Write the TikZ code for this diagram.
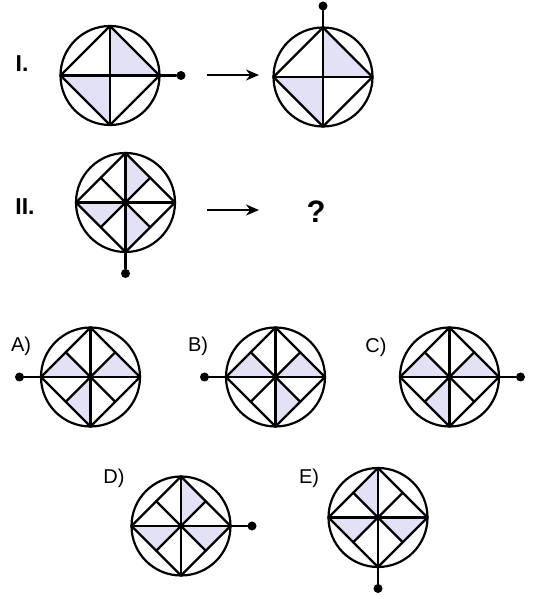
\documentclass[tikz,border=0pt]{standalone}
\usepackage{fontspec}
\setmainfont{Liberation Sans}
\usetikzlibrary{calc,arrows.meta}
\definecolor{lav}{RGB}{226,225,245}
\tikzset{
  figline/.style={line width=2.2pt, line join=round, line cap=round},
  ring/.style={circle, draw, line width=2.2pt, minimum size=99pt, inner sep=0pt, outer sep=0pt},
  knob/.style={circle, fill=black, minimum size=9pt, inner sep=0pt},
  lab/.style={font=\fontsize{20}{20}\selectfont, inner sep=0pt},
  roman/.style={font=\bfseries\fontsize{23}{23}\selectfont, inner sep=0pt},
  qmark/.style={font=\bfseries\fontsize{31}{31}\selectfont, inner sep=0pt},
  arr/.style={line width=2pt, -{Stealth[length=13pt,width=11pt]}},
  shadetri/.style={fill=lav, draw=lav, line width=0.6pt},
}
\newcommand\radval{49.5}
% #1 name, #2 centre, #3 shaded sectors, #4 divided (1) or not (0)
\newcommand\ringfig[4]{%
  \foreach \k in {#3} {%
    \pgfmathsetmacro\ra{\radval*(1-0.29289*mod(\k,2))}%
    \pgfmathsetmacro\rb{\radval*(1-0.29289*mod(\k+1,2))}%
    \filldraw[shadetri] (#2) -- ($(#2)+(45*\k:\ra)$) -- ($(#2)+(45*\k+45:\rb)$) -- cycle;
  }
  \node[ring] (#1) at (#2) {};
  \draw[figline] (#1.north) -- (#1.east) -- (#1.south) -- (#1.west) -- cycle;
  \draw[figline] (#1.north) -- (#1.south);
  \draw[figline] (#1.west) -- (#1.east);
  \ifnum#4=1
    \draw[figline] ($(#1.north)!0.5!(#1.west)$) -- ($(#1.south)!0.5!(#1.east)$);
    \draw[figline] ($(#1.north)!0.5!(#1.east)$) -- ($(#1.south)!0.5!(#1.west)$);
  \fi
}
% #1 name, #2 anchor, #3 angle
\newcommand\knobat[3]{%
  \node[knob] (#1-k) at ($(#1.center)+(#3:71)$) {};
  \draw[figline] (#1.#2) -- (#1-k);
}
\begin{document}
\begin{tikzpicture}[x=1pt,y=1pt]
\useasboundingbox (0,0) rectangle (533,599);

% Row I
\node[roman] (labI) at (22,535) {I.};
\ringfig{fIa}{110,523.5}{0,1,4,5}{0}
\knobat{fIa}{east}{0}
\coordinate (a1s) at (207,524);
\coordinate (a1e) at (259,524);
\draw[arr] (a1s) -- (a1e);
\ringfig{fIb}{323,522}{0,1,4,5}{0}
\knobat{fIb}{north}{90}

% Row II
\node[roman] (labII) at (25,392.5) {II.};
\ringfig{fII}{125.5,396.5}{1,4,6}{1}
\knobat{fII}{south}{270}
\coordinate (a2s) at (207,389);
\coordinate (a2e) at (259,389);
\draw[arr] (a2s) -- (a2e);
\node[qmark] (q) at (316,387) {?};

% Options A B C
\node[lab] (labA) at (21,253) {A)};
\ringfig{fA}{90.5,222}{0,3,5}{1}
\knobat{fA}{west}{180}

\node[lab] (labB) at (198,253) {B)};
\ringfig{fB}{275.5,222}{0,3,6}{1}
\knobat{fB}{west}{180}

\node[lab] (labC) at (376,252) {C)};
\ringfig{fC}{449.5,222}{0,3,5}{1}
\knobat{fC}{east}{0}

% Options D E
\node[lab] (labD) at (114,121) {D)};
\ringfig{fD}{181,73}{1,4,7}{1}
\knobat{fD}{east}{0}

\node[lab] (labE) at (309,121) {E)};
\ringfig{fE}{378,81.5}{2,4,7}{1}
\knobat{fE}{south}{270}
\end{tikzpicture}
\end{document}
